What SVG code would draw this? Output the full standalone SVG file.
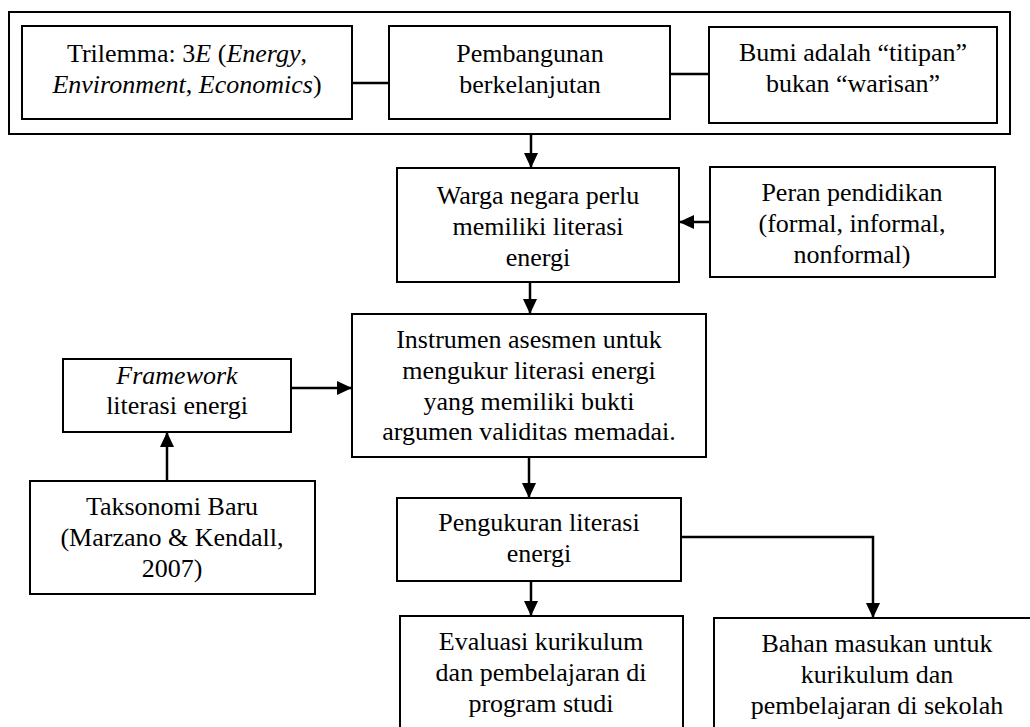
<svg xmlns="http://www.w3.org/2000/svg" width="1030" height="727" viewBox="0 0 1030 727">
<style>
.box{fill:#fff;stroke:#000;stroke-width:2}
.t{font-family:"Liberation Serif","Times New Roman",serif;font-size:26px;fill:#000;text-anchor:middle}
.i{font-style:italic}
.c{fill:none;stroke:#000;stroke-width:2.5}
</style>
<defs>
<marker id="ah" markerUnits="userSpaceOnUse" markerWidth="16" markerHeight="14" refX="15" refY="7" orient="auto">
<path d="M0,0 L15,7 L0,14 Z" fill="#000"/>
</marker>
</defs>
<rect width="1030" height="727" fill="#fff"/>
<g id="outer"><rect class="box" x="9" y="12" width="1001" height="122"/></g>
<g id="connectors">
<line class="c" x1="352" y1="83" x2="389" y2="83"/>
<line class="c" x1="670" y1="74" x2="709" y2="74"/>
<line class="c" x1="531" y1="134" x2="531" y2="168" marker-end="url(#ah)"/>
<line class="c" x1="710" y1="222" x2="679" y2="222" marker-end="url(#ah)"/>
<line class="c" x1="530" y1="282" x2="530" y2="314" marker-end="url(#ah)"/>
<line class="c" x1="291" y1="388" x2="352" y2="388" marker-end="url(#ah)"/>
<line class="c" x1="167" y1="481" x2="167" y2="432" marker-end="url(#ah)"/>
<line class="c" x1="529" y1="457" x2="529" y2="498" marker-end="url(#ah)"/>
<line class="c" x1="531" y1="581" x2="531" y2="616" marker-end="url(#ah)"/>
<polyline class="c" points="681,537 873,537 873,618" marker-end="url(#ah)"/>
</g>
<g id="trilemma"><rect class="box" x="22" y="26" width="330" height="93"/>
<text class="t" x="187" y="62">Trilemma: 3<tspan class="i">E</tspan> (<tspan class="i">Energy</tspan>,</text>
<text class="t" x="187" y="93"><tspan class="i">Environment</tspan>, <tspan class="i">Economics</tspan>)</text></g>
<g id="pembangunan"><rect class="box" x="389" y="26" width="281" height="93"/>
<text class="t" x="530" y="62">Pembangunan</text>
<text class="t" x="530" y="93">berkelanjutan</text></g>
<g id="bumi"><rect class="box" x="709" y="27" width="288" height="96"/>
<text class="t" x="853" y="61">Bumi adalah “titipan”</text>
<text class="t" x="853" y="92">bukan “warisan”</text></g>
<g id="warga"><rect class="box" x="397" y="168" width="282" height="114"/>
<text class="t" x="538" y="204">Warga negara perlu</text>
<text class="t" x="538" y="235">memiliki literasi</text>
<text class="t" x="538" y="266">energi</text></g>
<g id="peran"><rect class="box" x="710" y="167" width="285" height="110"/>
<text class="t" x="852" y="201">Peran pendidikan</text>
<text class="t" x="852" y="232">(formal, informal,</text>
<text class="t" x="852" y="263">nonformal)</text></g>
<g id="instrumen"><rect class="box" x="352" y="314" width="354" height="143"/>
<text class="t" x="529" y="348">Instrumen asesmen untuk</text>
<text class="t" x="529" y="379">mengukur literasi energi</text>
<text class="t" x="529" y="410">yang memiliki bukti</text>
<text class="t" x="529" y="440">argumen validitas memadai.</text></g>
<g id="framework"><rect class="box" x="63" y="359" width="228" height="73"/>
<text class="t" x="177" y="384"><tspan class="i">Framework</tspan></text>
<text class="t" x="177" y="414">literasi energi</text></g>
<g id="taksonomi"><rect class="box" x="30" y="481" width="285" height="113"/>
<text class="t" x="172" y="515">Taksonomi Baru</text>
<text class="t" x="172" y="546">(Marzano &amp; Kendall,</text>
<text class="t" x="172" y="577">2007)</text></g>
<g id="pengukuran"><rect class="box" x="397" y="498" width="284" height="83"/>
<text class="t" x="539" y="531">Pengukuran literasi</text>
<text class="t" x="539" y="562">energi</text></g>
<g id="evaluasi"><rect class="box" x="400" y="616" width="283" height="130"/>
<text class="t" x="541" y="650">Evaluasi kurikulum</text>
<text class="t" x="541" y="681">dan pembelajaran di</text>
<text class="t" x="541" y="712">program studi</text></g>
<g id="bahan"><rect class="box" x="714" y="618" width="330" height="130"/>
<text class="t" x="877" y="652">Bahan masukan untuk</text>
<text class="t" x="877" y="683">kurikulum dan</text>
<text class="t" x="877" y="714">pembelajaran di sekolah</text></g>
</svg>
